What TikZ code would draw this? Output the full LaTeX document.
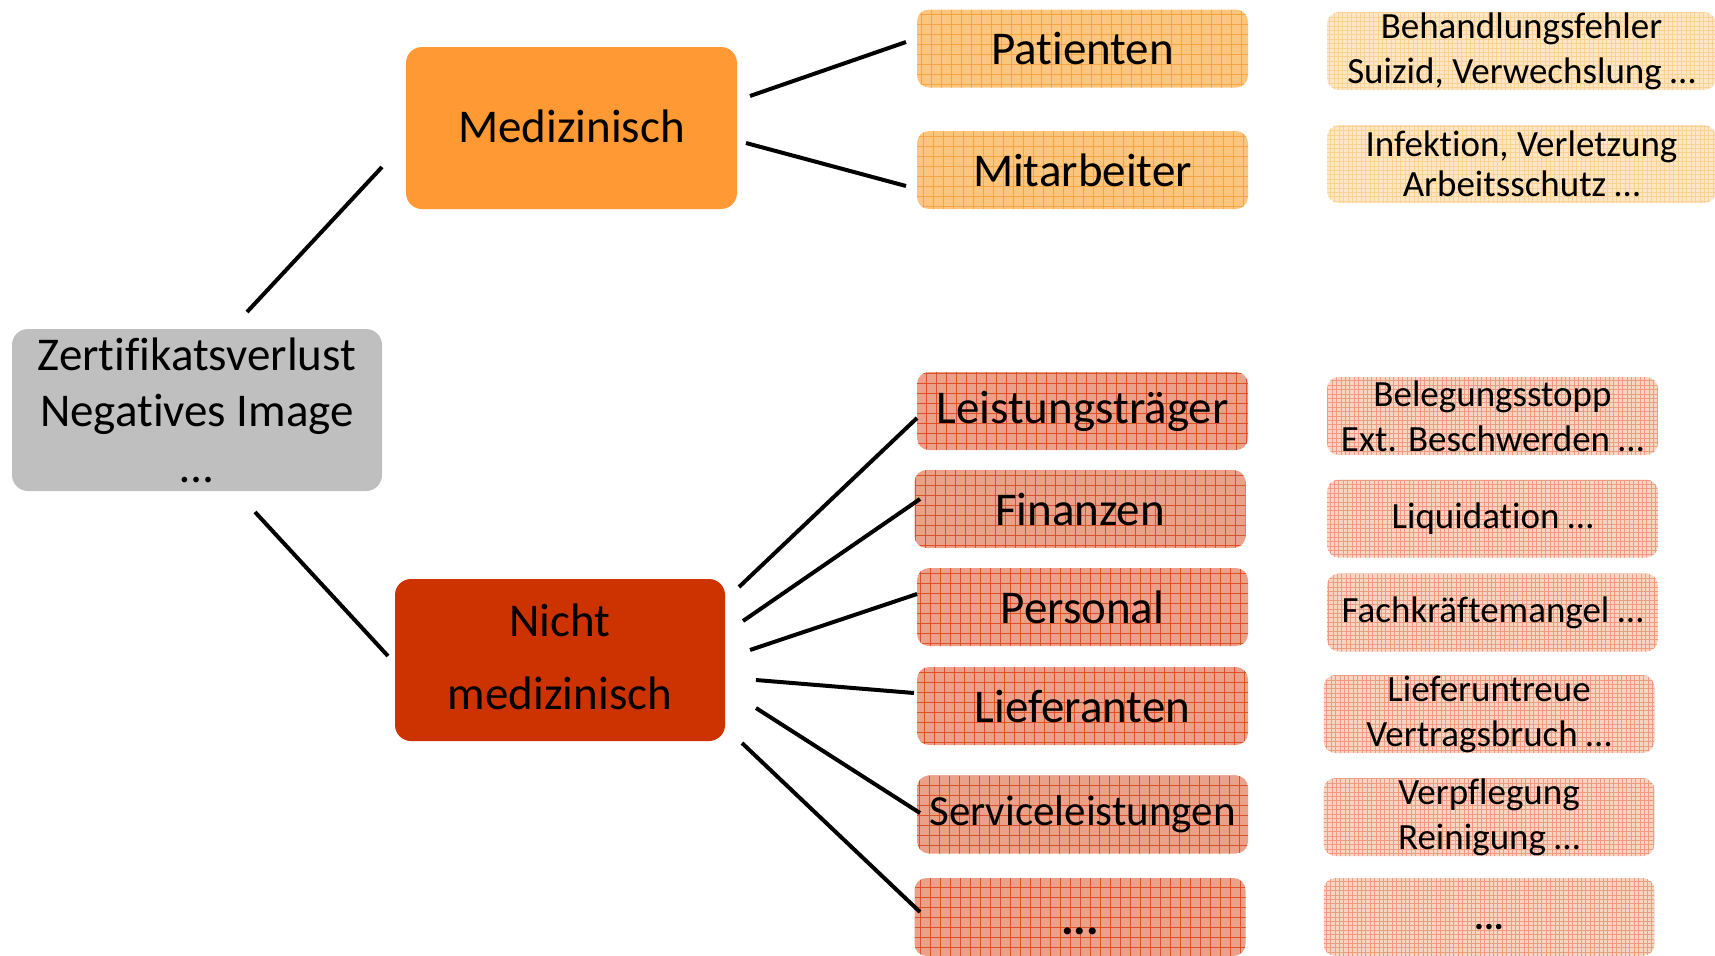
\documentclass[tikz,border=0pt]{standalone}
\usepackage{fontspec}
\setmainfont{Carlito}[Ligatures=NoCommon]
\definecolor{grayF}{HTML}{BFBFBF}
\definecolor{medF}{HTML}{FF9933}
\definecolor{nicF}{HTML}{CC3300}
\definecolor{orA}{HTML}{FCC67E}
\definecolor{orAline}{HTML}{F9A440}
\definecolor{orB}{HTML}{FEE7C4}
\definecolor{orBline}{HTML}{FBD196}
\definecolor{rdA}{HTML}{EBA089}
\definecolor{rdAline}{HTML}{DC5228}
\definecolor{rdB}{HTML}{F9D3C4}
\definecolor{rdBline}{HTML}{EE9C80}
\begin{document}
\begin{tikzpicture}[x=0.5pt,y=-0.5pt,
  base/.style={rounded corners=6pt, inner sep=0pt, align=center, text=black},
  mainfont/.style={font=\fontsize{23.5}{28}\selectfont},
  smallfont/.style={font=\fontsize{18.5}{22.5}\selectfont},
  bigbox/.style={base, mainfont, rounded corners=8pt, minimum width=165.5pt, minimum height=81pt},
  gridA/.style 2 args={fill=#1, path picture={\draw[#2, line width=0.45pt, step=5pt] (path picture bounding box.south west) grid (path picture bounding box.north east);}},
  gridB/.style 2 args={fill=#1, path picture={\draw[#2, line width=0.4pt, step=2.2pt] (path picture bounding box.south west) grid (path picture bounding box.north east);}},
  colA/.style={base, mainfont, minimum width=165.5pt, minimum height=39pt},
  colB/.style={base, smallfont, minimum width=165.5pt, minimum height=39pt},
  conn/.style={line width=2pt, black}
]
\useasboundingbox (0,0) rectangle (1715,955);
\clip (0,0) rectangle (1715,955);

% main boxes
\node[bigbox, fill=grayF, minimum width=185pt] (zert) at (197,410) {Zertifikatsverlust\\Negatives Image\\\dots};
\node[bigbox, fill=medF] (med) at (571.5,128) {};
\node[mainfont] (medtext) at (571.5,126) {Medizinisch};
\node[bigbox, fill=nicF, minimum width=165pt] (nic) at (560,660) {};
\node[mainfont, align=center, font=\fontsize{23.5}{36.5}\selectfont] (nictext) at (560,657) {Nicht\\medizinisch};

% second column
\node[colA, gridA={orA}{orAline}] (pat) at (1082.5,48.5) {Patienten};
\node[colA, gridA={orA}{orAline}] (mit) at (1082.5,170) {Mitarbeiter};
\node[colA, gridA={rdA}{rdAline}] (lei) at (1082.5,411) {Leistungsträger};
\node[colA, gridA={rdA}{rdAline}] (fin) at (1080,509) {Finanzen};
\node[colA, gridA={rdA}{rdAline}] (per) at (1082.5,607) {Personal};
\node[colA, gridA={rdA}{rdAline}] (lie) at (1082.5,706) {Lieferanten};
\node[colA, gridA={rdA}{rdAline}, font=\fontsize{21.5}{26}\selectfont] (ser) at (1082.5,814.5) {Serviceleistungen};
\node[colA, gridA={rdA}{rdAline}] (dda) at (1080,917) {};
\node[mainfont] (ddatext) at (1080,931) {\textbf{...}};

% third column
\node[colB, gridB={orB}{orBline}, minimum width=194.5pt] (beh) at (1521.5,51) {Behandlungsfehler\\Suizid, Verwechslung \dots};
\node[colB, gridB={orB}{orBline}, minimum width=194.5pt, font=\fontsize{18.5}{20}\selectfont] (inf) at (1521.5,164) {Infektion, Verletzung\\Arbeitsschutz \dots};
\node[colB, gridB={rdB}{rdBline}] (bel) at (1492.5,416) {Belegungsstopp\\Ext. Beschwerden \dots};
\node[colB, gridB={rdB}{rdBline}] (liq) at (1492.5,518.5) {Liquidation \dots};
\node[colB, gridB={rdB}{rdBline}] (fac) at (1492.5,612.5) {Fachkräftemangel \dots};
\node[colB, gridB={rdB}{rdBline}] (lfu) at (1489,714) {Lieferuntreue\\Vertragsbruch \dots};
\node[colB, gridB={rdB}{rdBline}] (ver) at (1489,817) {Verpflegung\\Reinigung \dots};
\node[colB, gridB={rdB}{rdBline}] (ddb) at (1489,917) {};
\node[smallfont] (ddbtext) at (1489,927) {\textbf{...}};

% connector end points
\coordinate (z1) at (247,312);  \coordinate (m1) at (382,167);
\coordinate (z2) at (255,512);  \coordinate (n1) at (388,656);
\coordinate (ma) at (750,96);   \coordinate (pa) at (906,42);
\coordinate (mb) at (746,143);  \coordinate (mi) at (906,186);
\coordinate (na) at (739,587);  \coordinate (le) at (917,418);
\coordinate (nb) at (743,621);  \coordinate (fi) at (920,499);
\coordinate (nc) at (750,650);  \coordinate (pe) at (917,594);
\coordinate (nd) at (756,680);  \coordinate (li) at (914,693);
\coordinate (ne) at (756,708);  \coordinate (se) at (920,813);
\coordinate (nf) at (742,743);  \coordinate (dd) at (920,912);

\draw[conn] (z1) -- (m1);
\draw[conn] (z2) -- (n1);
\draw[conn] (ma) -- (pa);
\draw[conn] (mb) -- (mi);
\draw[conn] (na) -- (le);
\draw[conn] (nb) -- (fi);
\draw[conn] (nc) -- (pe);
\draw[conn] (nd) -- (li);
\draw[conn] (ne) -- (se);
\draw[conn] (nf) -- (dd);
\end{tikzpicture}
\end{document}
